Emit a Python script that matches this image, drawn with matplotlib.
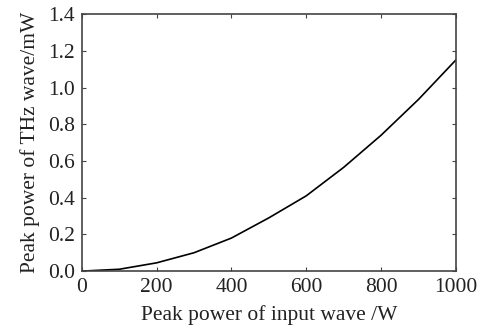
import matplotlib
matplotlib.use('Agg')
import matplotlib.pyplot as plt

# peak power of input wave (W) vs peak power of THz wave (mW)
input_power = [0, 100, 200, 300, 400, 500, 600, 700, 800, 900, 1000]
thz_power = [0, 0.01, 0.045, 0.10, 0.18, 0.29, 0.41, 0.565, 0.74, 0.935, 1.15]

x_ticks = [0, 200, 400, 600, 800, 1000]
y_ticks = [0.0, 0.2, 0.4, 0.6, 0.8, 1.0, 1.2, 1.4]

plt.rcParams['font.family'] = ['Liberation Serif', 'DejaVu Serif']

fig = plt.figure(figsize=(4.87, 3.29), dpi=100)
ax = fig.add_axes([0.168, 0.176, 0.768, 0.781])

ax.plot(input_power, thz_power, color='black', linewidth=1.2)

ax.set_xlim(0, 1000)
ax.set_ylim(0, 1.4)
ax.set_xticks(x_ticks)
ax.set_yticks(y_ticks)
ax.set_yticklabels([f'{v:.1f}' for v in y_ticks])
ax.tick_params(direction='in', length=3, width=0.8, labelsize=15.5,
               top=True, right=True, colors='#444444', labelcolor='#222222', pad=5)
for s in ax.spines.values():
    s.set_color('#444444')
    s.set_linewidth(1.2)

ax.set_xlabel('Peak power of input wave /W', fontsize=15.5, color='#222222', labelpad=6)
ax.set_ylabel('Peak power of THz wave/mW', fontsize=15.5, color='#222222', labelpad=6)

fig.savefig('out.png', dpi=100)
